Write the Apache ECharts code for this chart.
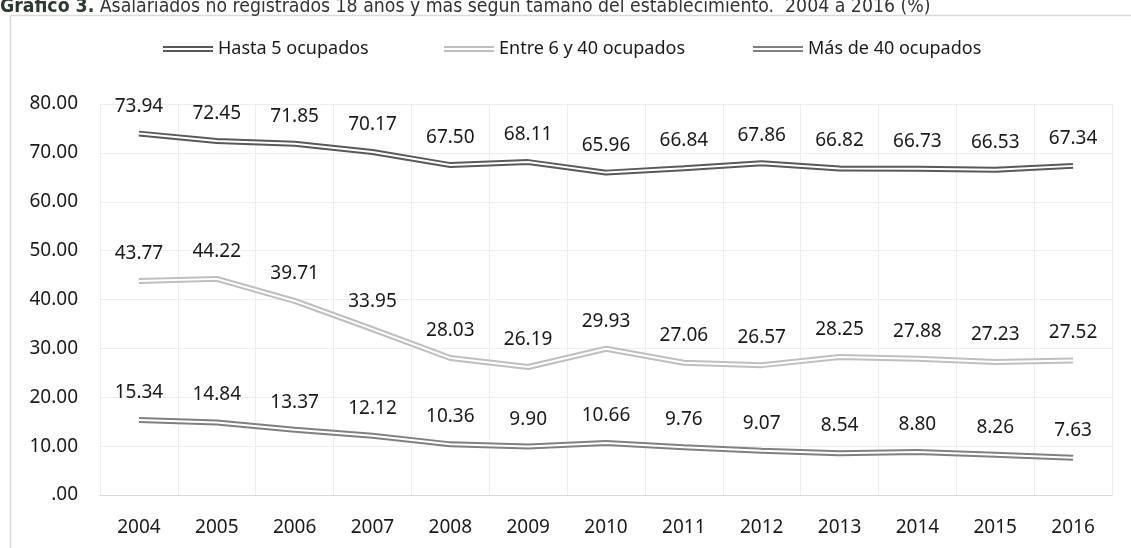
<!DOCTYPE html>
<html>
<head>
<meta charset="utf-8">
<script src="https://cdn.jsdelivr.net/npm/echarts@6/dist/echarts.min.js"></script>
<style>
html,body{margin:0;padding:0;background:#fff;}
#chart{width:1131px;height:548px;}
</style>
</head>
<body>
<div id="chart"></div>
<script>
const years = ['2004','2005','2006','2007','2008','2009','2010','2011','2012','2013','2014','2015','2016'];
const hasta5 = [73.94, 72.45, 71.85, 70.17, 67.50, 68.11, 65.96, 66.84, 67.86, 66.82, 66.73, 66.53, 67.34];
const entre6y40 = [43.77, 44.22, 39.71, 33.95, 28.03, 26.19, 29.93, 27.06, 26.57, 28.25, 27.88, 27.23, 27.52];
const mas40 = [15.34, 14.84, 13.37, 12.12, 10.36, 9.90, 10.66, 9.76, 9.07, 8.54, 8.80, 8.26, 7.63];
const seriesNames = ['Hasta 5 ocupados', 'Entre 6 y 40 ocupados', 'Más de 40 ocupados'];
const seriesColors = ['#595959', '#bfbfbf', '#808080'];
const titleBold = 'Gráfico 3.';
const titleRest = ' Asalariados no registrados 18 años y más según tamaño del establecimiento.  2004 a 2016 (%)';

const font = '"Noto Sans", "Open Sans", sans-serif';
const titleFont = '"Liberation Sans Narrow", "DejaVu Sans Condensed", sans-serif';
const datasets = [hasta5, entre6y40, mas40];
const icon = 'path://M0,0H50V2H0Z M0,4H50V6H0Z';
const legendLefts = [158, 439, 748];

const outer = datasets.map((d, i) => ({
  name: seriesNames[i],
  type: 'line',
  data: d,
  symbol: 'circle',
  showSymbol: true,
  symbolSize: 0,
  lineStyle: { color: seriesColors[i], width: 6 },
  itemStyle: { color: seriesColors[i] },
  z: 2,
  label: {
    show: true,
    position: 'top',
    distance: 18,
    color: '#1a1a1a',
    fontSize: 19,
    fontFamily: font,
    formatter: p => p.value.toFixed(2)
  }
}));
const inner = datasets.map((d, i) => ({
  name: seriesNames[i] + '_in',
  type: 'line',
  data: d,
  symbol: 'none',
  silent: true,
  lineStyle: { color: '#ffffff', width: 2 },
  z: 3
}));

const chart = echarts.init(document.getElementById('chart'), null, { renderer: 'canvas' });
chart.setOption({
  animation: false,
  backgroundColor: '#ffffff',
  graphic: [
    {
      type: 'rect',
      shape: { x: 10.5, y: 15.5, width: 1140, height: 560 },
      style: { fill: 'none', stroke: '#d9d9d9', lineWidth: 1.5 },
      silent: true
    },
    {
      type: 'text',
      x: 0,
      y: 16.5,
      style: {
        text: '{b|' + titleBold + '}{n|' + titleRest + '}',
        verticalAlign: 'bottom',
        rich: {
          b: { fontFamily: titleFont, fontWeight: 'bold', fontSize: 19.3, fill: '#2a3b30' },
          n: { fontFamily: titleFont, fontSize: 19.3, fill: '#333333' }
        }
      },
      silent: true
    }
  ],
  legend: seriesNames.map((n, i) => ({
    data: [{ name: n, icon: icon }],
    left: legendLefts[i],
    top: 35,
    itemWidth: 50,
    itemHeight: 6,
    textStyle: { fontSize: 18, fontFamily: font, color: '#1a1a1a' }
  })),
  grid: { left: 100, right: 19, top: 104, bottom: 53, containLabel: false },
  xAxis: {
    type: 'category',
    data: years,
    boundaryGap: true,
    axisLine: { show: true, lineStyle: { color: '#d9d9d9', width: 1 } },
    axisTick: { show: false },
    splitLine: { show: true, lineStyle: { color: '#eeeeee', width: 1 } },
    axisLabel: { margin: 23, fontSize: 19, fontFamily: font, color: '#1a1a1a' }
  },
  yAxis: {
    type: 'value',
    min: 0,
    max: 80,
    interval: 10,
    axisLine: { show: false },
    axisTick: { show: false },
    splitLine: { show: true, lineStyle: { color: '#eeeeee', width: 1 } },
    axisLabel: {
      margin: 22,
      fontSize: 19,
      fontFamily: font,
      color: '#1a1a1a',
      formatter: v => v === 0 ? '.00' : v.toFixed(2)
    }
  },
  series: outer.concat(inner)
});
</script>
</body>
</html>
